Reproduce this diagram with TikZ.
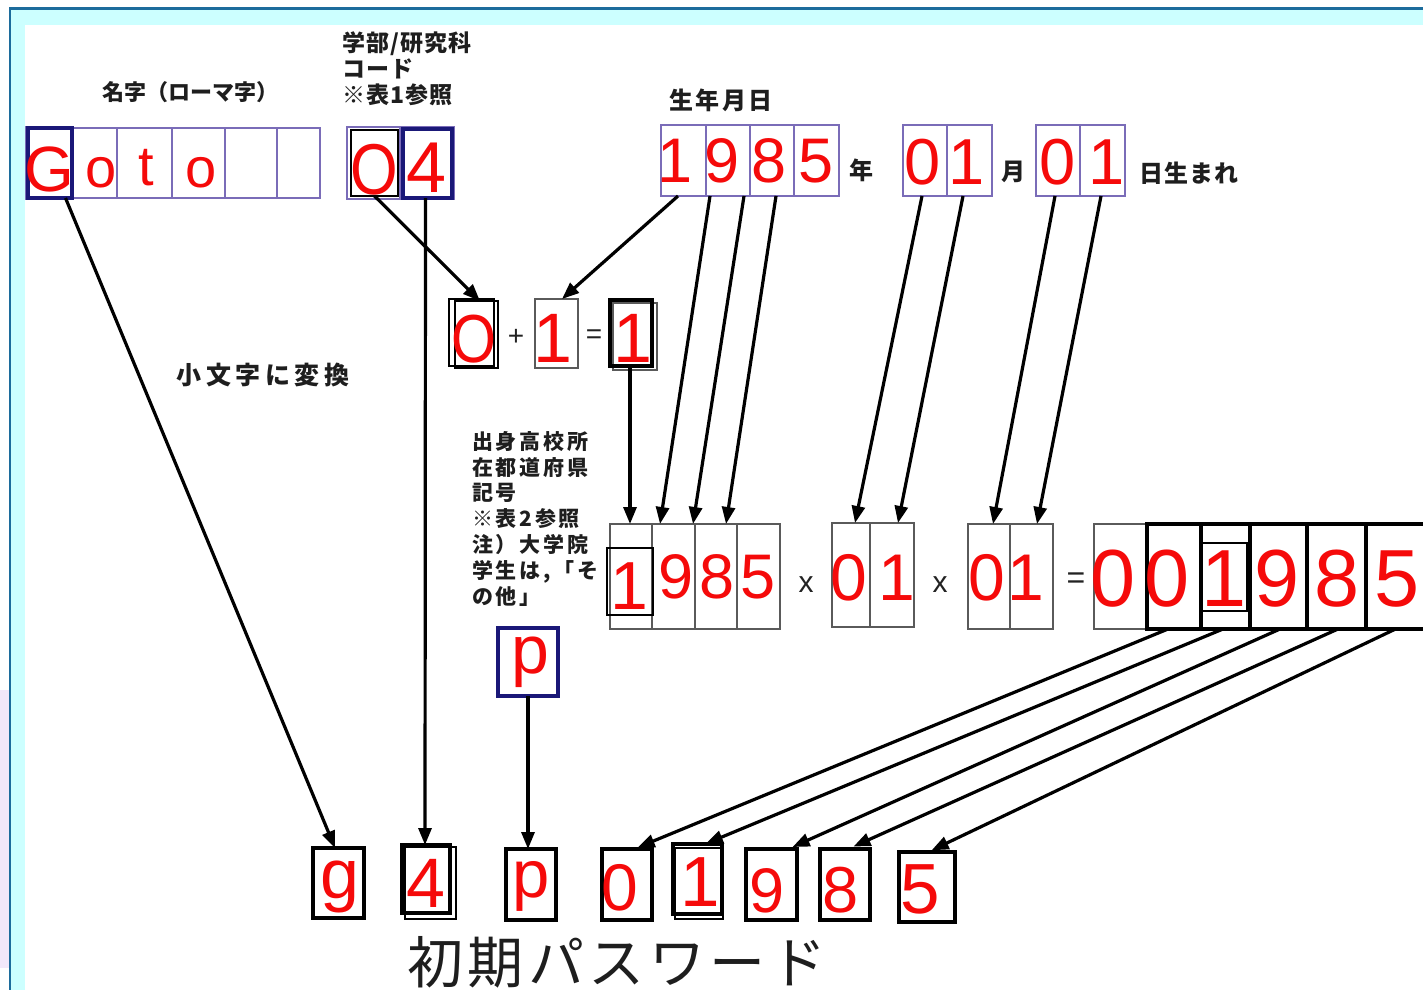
\documentclass[tikz,border=0pt]{standalone}
\usepackage{fontspec}
\setmainfont{Liberation Sans}
\newfontfamily\jp{Noto Sans CJK JP}
\usetikzlibrary{arrows.meta}
\definecolor{digred}{HTML}{F50A0A}
\definecolor{boxpurple}{HTML}{7A6CB8}
\definecolor{navy}{HTML}{1A1878}
\definecolor{boxgray}{HTML}{5A5A5A}
\definecolor{framecol}{HTML}{1C6C9C}
\definecolor{bandcol}{HTML}{CCFFFF}
\definecolor{lavender}{HTML}{F2E8FA}
\definecolor{labcol}{HTML}{1E1E1E}
\definecolor{opcol}{HTML}{222222}
\tikzset{
  pbox/.style={draw=boxpurple, line width=1.8pt},
  nbox/.style={draw=navy, line width=3.4pt},
  gbox/.style={draw=boxgray, line width=2pt},
  kbox/.style={draw=black, line width=3.2pt},
  tbox/.style={draw=black, line width=2pt},
  dig/.style={text=digred, inner sep=0pt, anchor=base, font=\fontsize{#1}{#1}\selectfont},
  opsign/.style={text=opcol, inner sep=0pt, font=\fontsize{#1}{#1}\selectfont},
  jl/.style={text=labcol, inner sep=0pt},
  arr/.style={line width=3.2pt, -{Triangle[length=17pt,width=13pt]}},
}
\newcommand{\cellbox}[6]{\node[#2, inner sep=0pt, outer sep=0pt, minimum width={(#5-#3)*1pt}, minimum height={(#6-#4)*1pt}] (#1) at ({(#3+#5)/2},{(#4+#6)/2}) {};}
\newcommand{\dg}[5]{\node[dig=#4] (#1) at (#2,#3) {#5};}
\begin{document}
\begin{tikzpicture}[x=1pt,y=-1pt]
\useasboundingbox (0,0) rectangle (1423,989);
\fill[white] (0,0) rectangle (1423,989);
% frame
\fill[lavender] (0,690) rectangle (8.5,968);
\fill[bandcol] (10,8) rectangle (1440,1000);
\fill[white] (25,25) rectangle (1440,1000);
\draw[framecol, line width=2.5pt] (10,1000) -- (10,8.5) -- (1440,8.5);

% ---- top row boxes
\cellbox{bGp}{pbox}{26}{127}{73}{199}
\cellbox{bo1}{pbox}{72}{128}{117}{198}
\cellbox{bt}{pbox}{117}{128}{172}{198}
\cellbox{bo2}{pbox}{172}{128}{225}{198}
\cellbox{be1}{pbox}{225}{128}{277}{198}
\cellbox{be2}{pbox}{277}{128}{320}{198}
\cellbox{bG}{nbox}{28}{128}{72}{198}
\cellbox{bOp}{pbox}{347}{127}{400}{199}
\cellbox{b4p}{pbox}{400}{127}{454}{199}
\cellbox{bO}{tbox}{351}{130}{398}{196}
\cellbox{b4}{nbox}{403}{129}{452}{198}
\cellbox{t1}{pbox}{661}{125}{706}{196}
\cellbox{t9}{pbox}{706}{125}{750}{196}
\cellbox{t8}{pbox}{750}{125}{794}{196}
\cellbox{t5}{pbox}{794}{125}{839}{196}
\cellbox{m0}{pbox}{903}{125}{947}{196}
\cellbox{m1}{pbox}{947}{125}{992}{196}
\cellbox{d0}{pbox}{1036}{125}{1080}{196}
\cellbox{d1}{pbox}{1080}{125}{1125}{196}

% ---- sum row
\cellbox{sOb}{tbox}{449}{299}{494}{366}
\cellbox{sO}{tbox}{455}{301}{498}{368}
\cellbox{s1}{gbox}{535}{299}{578}{368}
\cellbox{sRb}{gbox}{613}{303}{657}{370}
\cellbox{sR}{kbox}{610}{300}{652}{366}

% ---- lower row
\cellbox{l1}{gbox}{610}{524}{652}{629}
\cellbox{l9}{gbox}{652}{524}{695}{629}
\cellbox{l8}{gbox}{695}{524}{737}{629}
\cellbox{l5}{gbox}{737}{524}{780}{629}
\cellbox{l1b}{tbox}{607}{548}{653}{615}
\cellbox{la0}{gbox}{832}{523}{870}{627}
\cellbox{la1}{gbox}{870}{523}{914}{627}
\cellbox{lb0}{gbox}{968}{524}{1010}{629}
\cellbox{lb1}{gbox}{1010}{524}{1053}{629}
\cellbox{r0a}{gbox}{1094}{524}{1147}{629}
\cellbox{r0}{kbox}{1147}{524}{1201}{629}
\cellbox{r1}{kbox}{1201}{524}{1250}{629}
\cellbox{r9}{kbox}{1250}{524}{1307}{629}
\cellbox{r8}{kbox}{1307}{524}{1366}{629}
\cellbox{r5}{kbox}{1366}{524}{1445}{629}
\cellbox{r1b}{tbox}{1202}{543}{1247}{611}
\cellbox{pp}{nbox}{498}{628}{558}{696}

% ---- bottom row
\cellbox{bg}{kbox}{313}{848}{364}{918}
\cellbox{b4b}{tbox}{405}{847}{456}{919}
\cellbox{b4a}{kbox}{402}{845}{450}{913}
\cellbox{bp}{kbox}{506}{849}{556}{920}
\cellbox{b0}{kbox}{602}{849}{652}{920}
\cellbox{b1b}{tbox}{675}{848}{723}{919}
\cellbox{b1a}{kbox}{673}{844}{722}{914}
\cellbox{b9}{kbox}{746}{849}{797}{920}
\cellbox{b8}{kbox}{820}{849}{870}{920}
\cellbox{b5}{kbox}{899}{852}{955}{922}

% ---- digits / letters
\dg{xG}{49.5}{191}{64}{G}
\dg{xo1}{101}{187}{56}{o}
\dg{xt}{146}{185}{56}{t}
\dg{xo2}{201.5}{187}{56}{o}
\dg{xO}{374.5}{194}{72}{\scalebox{0.85}[1]{O}}
\dg{x4}{427}{192}{72}{4}
\dg{xt1}{675}{182}{63}{1}
\dg{xt9}{722}{182}{63}{9}
\dg{xt8}{769}{182}{63}{8}
\dg{xt5}{816}{182}{63}{5}
\dg{xm0}{923}{184}{65}{0}
\dg{xm1}{967}{184}{65}{1}
\dg{xd0}{1058}{184}{65}{0}
\dg{xd1}{1107}{184}{65}{1}
\dg{xsO}{474}{362}{68}{\scalebox{0.85}[1]{O}}
\dg{xs1}{552.5}{362}{70}{1}
\dg{xsR}{633}{362}{70}{1}
\dg{xl1}{629}{609}{68}{1}
\dg{xl9}{676}{598}{63}{9}
\dg{xl8}{717.5}{598}{63}{8}
\dg{xl5}{758.5}{598}{63}{5}
\dg{xla0}{849}{600}{66}{0}
\dg{xla1}{897}{600}{66}{1}
\dg{xlb0}{987}{600}{66}{0}
\dg{xlb1}{1026}{600}{66}{1}
\dg{xr0a}{1113}{606}{81}{0}
\dg{xr0}{1167.5}{606}{81}{0}
\dg{xr1}{1224}{606}{81}{1}
\dg{xr9}{1277}{606}{81}{9}
\dg{xr8}{1337.5}{606}{81}{8}
\dg{xr5}{1397}{606}{81}{5}
\dg{xpp}{530}{673}{68}{p}
\dg{xbg}{340}{898}{70}{g}
\dg{xb4}{426}{907}{70}{4}
\dg{xbp}{531}{897}{67}{p}
\dg{xb0}{620}{910}{66}{0}
\dg{xb1}{700}{906}{71}{1}
\dg{xb9}{767.5}{912}{63}{9}
\dg{xb8}{840.5}{912}{65}{8}
\dg{xb5}{920.5}{913}{71}{5}

% ---- operators
\node[opsign=28] (plus) at (516,337) {+};
\node[opsign=28] (eqa) at (594,337) {=};
\node[opsign=30] (mula) at (806,585) {x};
\node[opsign=30] (mulb) at (940,585) {x};
\node[opsign=32] (eqb) at (1076,581) {=};

% ---- labels
\node[jl, font=\jp\bfseries\fontsize{22}{22}\selectfont] (lname) at (190,92) {名字（ローマ字）};
\node[jl, anchor=north west, align=left, font=\jp\bfseries\fontsize{23}{26}\selectfont\addfontfeature{LetterSpace=5}] (ldept) at (342,31) {学部/研究科\\コード\\※表1参照};
\node[jl, font=\jp\bfseries\fontsize{24}{24}\selectfont\addfontfeature{LetterSpace=10}] (lbirth) at (721,100) {生年月日};
\node[jl, font=\jp\bfseries\fontsize{24}{24}\selectfont] (lyear) at (861,170) {年};
\node[jl, font=\jp\bfseries\fontsize{24}{24}\selectfont] (lmonth) at (1013,172) {月};
\node[jl, anchor=west, font=\jp\bfseries\fontsize{24}{24}\selectfont\addfontfeature{LetterSpace=5}] (lday) at (1139,173) {日生まれ};
\node[jl, font=\jp\bfseries\fontsize{25}{25}\selectfont\addfontfeature{LetterSpace=18}] (llower) at (263,375) {小文字に変換};
\node[jl, anchor=north west, align=left, font=\jp\bfseries\fontsize{21}{25.8}\selectfont\addfontfeature{LetterSpace=13}] (lhs) at (472,431) {出身高校所\\在都道府県\\記号\\※表2参照\\注）大学院\\学生は,「そ\\の他」};
\node[jl, font=\jp\fontsize{56}{56}\selectfont\addfontfeature{LetterSpace=8}] (lpw) at (617,962) {初期パスワード};

% ---- connectors
\draw[arr] ([xshift=15.5pt]bG.south) -- ([xshift=-3.5pt]bg.north);
\draw[arr] ([xshift=-2pt]b4.south) -- ([xshift=-1pt]b4a.north);
\draw[arr] (bO.south) -- ([xshift=3.5pt]sO.north);
\draw[arr] ([xshift=-5.5pt]t1.south) -- ([xshift=5.5pt]s1.north);
\draw[arr] ([xshift=-1pt]sR.south) -- ([xshift=-1pt]l1.north);
\draw[arr] ([xshift=-18pt]t9.south) -- ([xshift=-13.5pt]l9.north);
\draw[arr] ([xshift=-28pt]t8.south) -- ([xshift=-23pt]l8.north);
\draw[arr] ([xshift=-40.5pt]t5.south) -- ([xshift=-32.5pt]l5.north);
\draw[arr] ([xshift=-3pt]m0.south) -- ([xshift=4pt]la0.north);
\draw[arr] ([xshift=-6.5pt]m1.south) -- ([xshift=6pt]la1.north);
\draw[arr] ([xshift=-3pt]d0.south) -- ([xshift=4pt]lb0.north);
\draw[arr] ([xshift=-1.5pt]d1.south) -- ([xshift=5.5pt]lb1.north);
\draw[arr] (pp.south) -- ([xshift=-3pt]bp.north);
\draw[arr, shorten >=4pt] ([xshift=-6pt]r0.south) -- ([xshift=7pt]b0.north);
\draw[arr, shorten >=1pt] ([xshift=-2.5pt]r1.south) -- ([xshift=7.5pt]b1a.north);
\draw[arr, shorten >=5pt] ([xshift=1.5pt]r9.south) -- ([xshift=16.5pt]b9.north);
\draw[arr, shorten >=6pt] ([xshift=1.5pt]r8.south) -- ([xshift=3pt]b8.north);
\draw[arr, shorten >=4pt] ([xshift=-10pt]r5.south) -- ([xshift=1pt]b5.north);
\end{tikzpicture}
\end{document}
